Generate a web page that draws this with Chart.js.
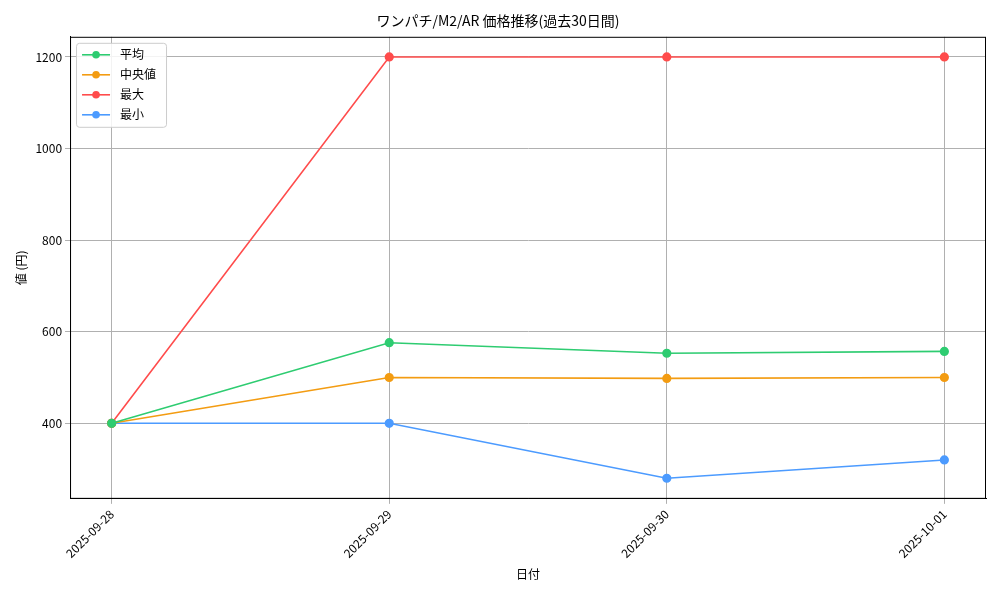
<!DOCTYPE html>
<html><head><meta charset="utf-8">
<script src="https://cdn.jsdelivr.net/npm/chart.js@4"></script>
<style>html,body{margin:0;padding:0;background:#fff}#w{width:1000px;height:600px}</style>
</head><body><div id="w"><canvas id="c"></canvas></div>
<script>
const dates = ["2025-09-28","2025-09-29","2025-09-30","2025-10-01"];
const meanVals = [400,576,553,557];
const medianVals = [400,500,498,500];
const maxVals = [400,1200,1200,1200];
const minVals = [400,400,280,320];
const yTicks = [400,600,800,1000,1200];
const F = "'Noto Sans CJK JP', 'DejaVu Sans', sans-serif";
Chart.defaults.font.family = F;
Chart.defaults.color = '#000';
const mk = (label, vals, color) => ({label, data: vals.map((v,i)=>({x:i,y:v})), borderColor: color, backgroundColor: color, borderWidth: 1.6, pointRadius: 3.8, pointHoverRadius: 3.8, tension: 0});
const legendPlugin = {
  id:'lg',
  afterDraw(chart){
    const ctx = chart.ctx, a = chart.chartArea;
    ctx.save();
    ctx.strokeStyle='#000'; ctx.lineWidth=1;
    ctx.strokeRect(a.left+0.5, a.top+0.5, a.right-a.left-1, a.bottom-a.top-1);
    const x0 = a.left + 6, y0 = a.top + 6, w = 90, h = 84;
    ctx.fillStyle='rgba(255,255,255,0.85)'; ctx.strokeStyle='#ccc';
    ctx.beginPath(); ctx.roundRect(x0+0.5,y0+0.5,w,h,3); ctx.fill(); ctx.stroke();
    chart.data.datasets.forEach((d,i)=>{
      const y = y0 + 12 + i*20;
      ctx.strokeStyle=d.borderColor; ctx.lineWidth=1.6;
      ctx.beginPath(); ctx.moveTo(x0+6,y); ctx.lineTo(x0+34,y); ctx.stroke();
      ctx.fillStyle=d.borderColor; ctx.beginPath(); ctx.arc(x0+20,y,3.8,0,Math.PI*2); ctx.fill();
      ctx.fillStyle='#000'; ctx.font="12px "+F; ctx.textBaseline='middle';
      ctx.fillText(d.label, x0+44, y);
    });
    ctx.restore();
  }
};
new Chart(document.getElementById('c'), {
  type:'line',
  data:{datasets:[
    mk('平均', meanVals, '#2ecc71'),
    mk('中央値', medianVals, '#f39c12'),
    mk('最大', maxVals, '#ff4c4c'),
    mk('最小', minVals, '#4c9bff')
  ]},
  options:{
    responsive:true, maintainAspectRatio:false, animation:false,
    layout:{padding:{left:10,right:14,top:4,bottom:14}},
    plugins:{legend:{display:false}, tooltip:{enabled:false},
      title:{display:true, text:'ワンパチ/M2/AR 価格推移(過去30日間)', font:{size:14, weight:'normal'}, padding:{top:8,bottom:8}}},
    scales:{
      x:{type:'linear', min:-0.15, max:3.15,
        afterBuildTicks(ax){ ax.ticks = dates.map((d,i)=>({value:i})); },
        ticks:{callback:(v)=>dates[v], maxRotation:45, minRotation:45, font:{size:12}},
        grid:{color:'#b0b0b0', drawTicks:true, tickLength:5},
        border:{color:'#000'},
        title:{display:true, text:'日付', font:{size:12}}},
      y:{min:235, max:1244,
        afterBuildTicks(ax){ ax.ticks = yTicks.map(v=>({value:v})); },
        ticks:{font:{size:12}, callback:(v)=>String(v)},
        grid:{color:'#b0b0b0', tickLength:5},
        border:{color:'#000'},
        title:{display:true, text:'値 (円)', font:{size:12}}}
    }
  },
  plugins:[legendPlugin]
});
</script></body></html>
